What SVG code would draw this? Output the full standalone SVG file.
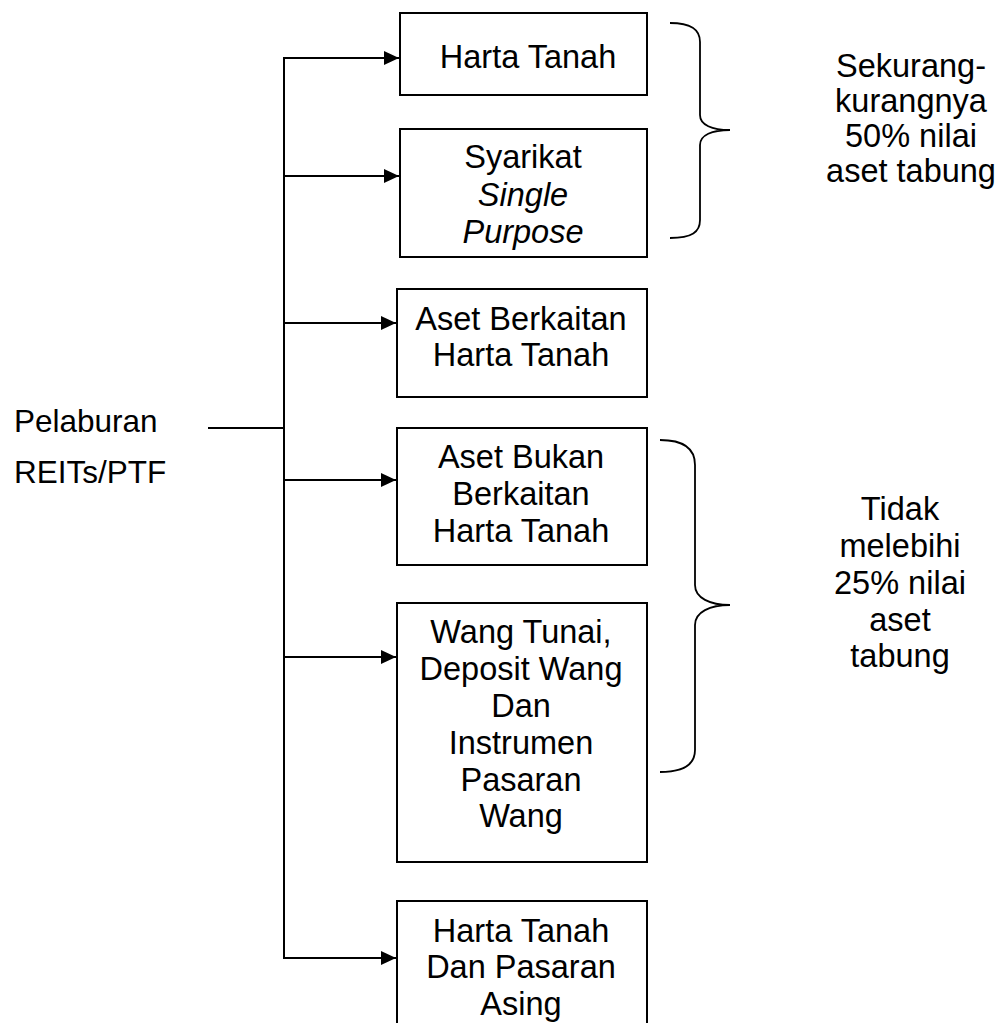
<svg xmlns="http://www.w3.org/2000/svg" width="998" height="1023" viewBox="0 0 998 1023">
<defs>
<style>
text{font-family:"Liberation Sans",Arial,sans-serif;font-size:32.5px;fill:#000}
.c{text-anchor:middle}
.lbl{font-size:31.5px}
.box{fill:#fff;stroke:#000;stroke-width:2}
.ln{fill:none;stroke:#000;stroke-width:2}
.br{fill:none;stroke:#000;stroke-width:1.8}
</style>
<marker id="ah" markerUnits="userSpaceOnUse" markerWidth="16" markerHeight="14" refX="15" refY="7" orient="auto">
<path d="M0,0 L15,7 L0,14 Z" fill="#000"/>
</marker>
</defs>
<rect width="998" height="1023" fill="#fff"/>
<g id="connectors">
<path class="ln" d="M208,428 H284"/>
<path class="ln" d="M284,57 V959"/>
<path class="ln" d="M284,58 H399" marker-end="url(#ah)"/>
<path class="ln" d="M284,176 H399" marker-end="url(#ah)"/>
<path class="ln" d="M284,323 H396" marker-end="url(#ah)"/>
<path class="ln" d="M284,480 H396" marker-end="url(#ah)"/>
<path class="ln" d="M284,657 H396" marker-end="url(#ah)"/>
<path class="ln" d="M284,958 H396" marker-end="url(#ah)"/>
</g>
<g id="root">
<text class="lbl" x="14" y="432">Pelaburan</text>
<text class="lbl" x="14" y="483">REITs/PTF</text>
</g>
<g id="n1">
<rect class="box" x="400" y="13" width="247" height="82"/>
<text class="c" x="528" y="68">Harta Tanah</text>
</g>
<g id="n2">
<rect class="box" x="400" y="129" width="247" height="128"/>
<text class="c" x="523" y="168">Syarikat</text>
<text class="c" x="523" y="206" font-style="italic">Single</text>
<text class="c" x="523" y="243" font-style="italic">Purpose</text>
</g>
<g id="n3">
<rect class="box" x="397" y="289" width="250" height="108"/>
<text class="c" x="521" y="330">Aset Berkaitan</text>
<text class="c" x="521" y="366">Harta Tanah</text>
</g>
<g id="n4">
<rect class="box" x="397" y="428" width="250" height="137"/>
<text class="c" x="521" y="468">Aset Bukan</text>
<text class="c" x="521" y="505">Berkaitan</text>
<text class="c" x="521" y="542">Harta Tanah</text>
</g>
<g id="n5">
<rect class="box" x="397" y="603" width="250" height="259"/>
<text class="c" x="521" y="643">Wang Tunai,</text>
<text class="c" x="521" y="680">Deposit Wang</text>
<text class="c" x="521" y="717">Dan</text>
<text class="c" x="521" y="754">Instrumen</text>
<text class="c" x="521" y="791">Pasaran</text>
<text class="c" x="521" y="827">Wang</text>
</g>
<g id="n6">
<rect class="box" x="397" y="901" width="250" height="140"/>
<text class="c" x="521" y="942">Harta Tanah</text>
<text class="c" x="521" y="978">Dan Pasaran</text>
<text class="c" x="521" y="1015">Asing</text>
</g>
<g id="brace1">
<path class="br" d="M670,23 C692,23 700,30 700,42 L700,115 C700,125 712,130 730,130 C712,130 700,135 700,145 L700,220 C700,232 692,238 670,238"/>
<text class="c" x="911" y="77">Sekurang-</text>
<text class="c" x="911" y="112">kurangnya</text>
<text class="c" x="911" y="147">50% nilai</text>
<text class="c" x="911" y="182">aset tabung</text>
</g>
<g id="brace2">
<path class="br" d="M660,440 C685,440 695,450 695,465 L695,585 C695,598 710,605 730,605 C710,605 695,612 695,625 L695,750 C695,764 685,772 660,772"/>
<text class="c" x="900" y="520">Tidak</text>
<text class="c" x="900" y="557">melebihi</text>
<text class="c" x="900" y="594">25% nilai</text>
<text class="c" x="900" y="631">aset</text>
<text class="c" x="900" y="667">tabung</text>
</g>
</svg>
